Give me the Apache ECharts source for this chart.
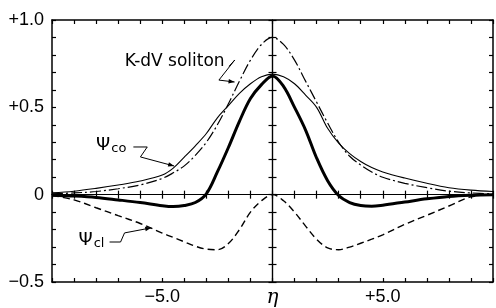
<!DOCTYPE html>
<html>
<head>
<meta charset="utf-8">
<script src="https://cdn.jsdelivr.net/npm/echarts@6/dist/echarts.min.js"></script>
<style>
  html, body { margin: 0; padding: 0; background: #fff; }
  #chart { width: 496px; height: 308px; }
</style>
</head>
<body>
<div id="chart"></div>
<script>
// eta positions that the curves were read at
const eta = [-10, -9, -8, -7, -6, -5, -4.5, -4, -3.5, -3, -2.5, -2, -1.5, -1, -0.5, 0,
  0.5, 1, 1.5, 2, 2.5, 3, 3.5, 4, 4.5, 5, 6, 7, 8, 9, 10]

// K-dV soliton (dash-dot)
const kdvSoliton = [0.005, 0.01, 0.018, 0.034, 0.056, 0.093, 0.125, 0.165, 0.225, 0.3, 0.4, 0.52, 0.65, 0.77, 0.86, 0.9,
  0.86, 0.77, 0.65, 0.53, 0.41, 0.3, 0.22, 0.17, 0.13, 0.1, 0.065, 0.04, 0.02, 0.01, 0.005]
// psi_co (thin solid)
const psiCo = [0.01, 0.02, 0.036, 0.055, 0.078, 0.112, 0.152, 0.215, 0.28, 0.35, 0.44, 0.51, 0.58, 0.635, 0.675, 0.69,
  0.675, 0.635, 0.57, 0.5, 0.38, 0.295, 0.235, 0.19, 0.155, 0.13, 0.095, 0.065, 0.04, 0.026, 0.018]
// psi_co + psi_cl (thick solid)
const psiSum = [-0.003, -0.008, -0.016, -0.03, -0.045, -0.063, -0.068, -0.062, -0.045, 0.005, 0.13, 0.27, 0.42, 0.55, 0.63, 0.68,
  0.62, 0.5, 0.37, 0.21, 0.08, -0.005, -0.045, -0.062, -0.066, -0.06, -0.042, -0.024, -0.01, -0.003, 0]
// psi_cl (dashed)
const psiCl = [-0.005, -0.03, -0.075, -0.12, -0.165, -0.22, -0.245, -0.27, -0.295, -0.312, -0.315, -0.28, -0.2, -0.1, -0.035, 0,
  -0.035, -0.1, -0.18, -0.255, -0.305, -0.315, -0.3, -0.278, -0.255, -0.23, -0.17, -0.118, -0.065, -0.012, 0]

const xTickLabels = { '-5': '\u22125.0', '0': '{e|\u03b7}', '5': '+5.0' }
const yTickLabels = { '10': '+1.0', '5': '+0.5', '0': '0', '-5': '\u22120.5' }

// annotations, in data units: label anchor (left, middle) and leader path ending in an arrow
const notes = [
  { text: 'K-dV soliton', at: [-6.7, 0.764],
    path: [[-1.97, 0.735], [-1.71, 0.771], [-2.43, 0.656], [-1.72, 0.645]] },
  { text: '{p|\u03a8}{s|co}', at: [-8.0, 0.284],
    path: [[-6.31, 0.273], [-5.68, 0.273], [-5.99, 0.216], [-4.46, 0.164]] },
  { text: '{p|\u03a8}{s|cl}', at: [-8.8, -0.259],
    path: [[-7.39, -0.271], [-6.89, -0.271], [-6.71, -0.219], [-5.5, -0.19]] }
]

function pairs(ys) {
  return eta.map((x, i) => [x, ys[i]])
}

const chartInstance = echarts.init(document.getElementById('chart'), null, { renderer: 'canvas' })

const black = '#000'
const baseX = {
  type: 'value', min: -10, max: 10, interval: 1,
  splitLine: { show: false },
  axisLine: { show: true, onZero: false, lineStyle: { color: black, width: 1.5 } },
  axisTick: { show: true, inside: true, length: 4, lineStyle: { color: black, width: 1.2 } },
  axisLabel: { show: false }
}
const baseY = {
  type: 'value', min: -0.5, max: 1, interval: 0.1,
  splitLine: { show: false },
  axisLine: { show: true, onZero: false, lineStyle: { color: black, width: 1.5 } },
  axisTick: { show: true, inside: true, length: 4, lineStyle: { color: black, width: 1.2 } },
  axisLabel: { show: false }
}
function merge(base, extra) {
  return echarts.util.merge(echarts.util.clone(base), extra, true)
}

const option = {
  animation: false,
  backgroundColor: '#fff',
  grid: { left: 52, right: 1, top: 20, bottom: 26, containLabel: false },
  xAxis: [
    merge(baseX, {
      position: 'bottom',
      axisLabel: {
        show: true, margin: 6, color: black, fontSize: 18, fontFamily: 'Liberation Sans',
        formatter: v => xTickLabels[String(Math.round(v))] || '',
        rich: { e: { fontFamily: 'DejaVu Serif', fontStyle: 'italic', fontSize: 20, color: black } }
      }
    }),
    merge(baseX, { position: 'top' }),
    merge(baseX, { position: 'bottom', axisLine: { onZero: true, onZeroAxisIndex: 0, lineStyle: { width: 1.2 } } }),
    merge(baseX, { position: 'bottom', axisLine: { onZero: true, onZeroAxisIndex: 0, lineStyle: { width: 1.2 } },
      axisTick: { inside: false } })
  ],
  yAxis: [
    merge(baseY, {
      position: 'left',
      axisLabel: {
        show: true, margin: 8, color: black, fontSize: 18, fontFamily: 'Liberation Sans',
        formatter: v => yTickLabels[String(Math.round(v * 10))] || ''
      }
    }),
    merge(baseY, { position: 'right' }),
    merge(baseY, { position: 'left', axisLine: { onZero: true, onZeroAxisIndex: 0, lineStyle: { width: 1.2 } } }),
    merge(baseY, { position: 'left', axisLine: { onZero: true, onZeroAxisIndex: 0, lineStyle: { width: 1.2 } },
      axisTick: { inside: false } })
  ],
  series: [
    {
      name: 'K-dV soliton', type: 'line', data: pairs(kdvSoliton), smooth: 0.35, showSymbol: false, z: 3,
      lineStyle: { color: black, width: 1.2, type: [11, 3, 2, 3] }
    },
    {
      name: 'psi_co', type: 'line', data: pairs(psiCo), smooth: 0.35, showSymbol: false, z: 4,
      lineStyle: { color: black, width: 1.1 }
    },
    {
      name: 'psi_cl', type: 'line', data: pairs(psiCl), smooth: 0.35, showSymbol: false, z: 3,
      lineStyle: { color: black, width: 1.4, type: [7, 4] }
    },
    {
      name: 'psi', type: 'line', data: pairs(psiSum), smooth: 0.35, showSymbol: false, z: 5,
      lineStyle: { color: black, width: 3 }
    }
  ]
}
chartInstance.setOption(option)

// labels and leader arrows, placed through the axes
function toPx(p) {
  return chartInstance.convertToPixel({ xAxisIndex: 0, yAxisIndex: 0 }, p)
}
const elements = []
notes.forEach(n => {
  const at = toPx(n.at)
  elements.push({
    type: 'text', x: at[0], y: at[1], z: 10,
    style: {
      text: n.text, fill: black, fontSize: 17, fontFamily: 'DejaVu Sans', verticalAlign: 'middle', align: 'left',
      rich: {
        p: { fontSize: 18, fontFamily: 'DejaVu Sans', fill: black },
        s: { fontSize: 13, fontFamily: 'DejaVu Sans', fill: black, padding: [8, 0, 0, 1] }
      }
    }
  })
  const pts = n.path.map(toPx)
  elements.push({
    type: 'polyline', z: 10,
    shape: { points: pts },
    style: { stroke: black, lineWidth: 1, fill: null }
  })
  const tip = pts[pts.length - 1]
  const prev = pts[pts.length - 2]
  const dx = tip[0] - prev[0], dy = tip[1] - prev[1]
  const len = Math.sqrt(dx * dx + dy * dy)
  const ux = dx / len, uy = dy / len
  const bx = tip[0] - ux * 6, by = tip[1] - uy * 6
  elements.push({
    type: 'polygon', z: 10,
    shape: { points: [tip, [bx - uy * 2.2, by + ux * 2.2], [bx + uy * 2.2, by - ux * 2.2]] },
    style: { fill: black }
  })
})
chartInstance.setOption({ graphic: elements })
</script>
</body>
</html>
